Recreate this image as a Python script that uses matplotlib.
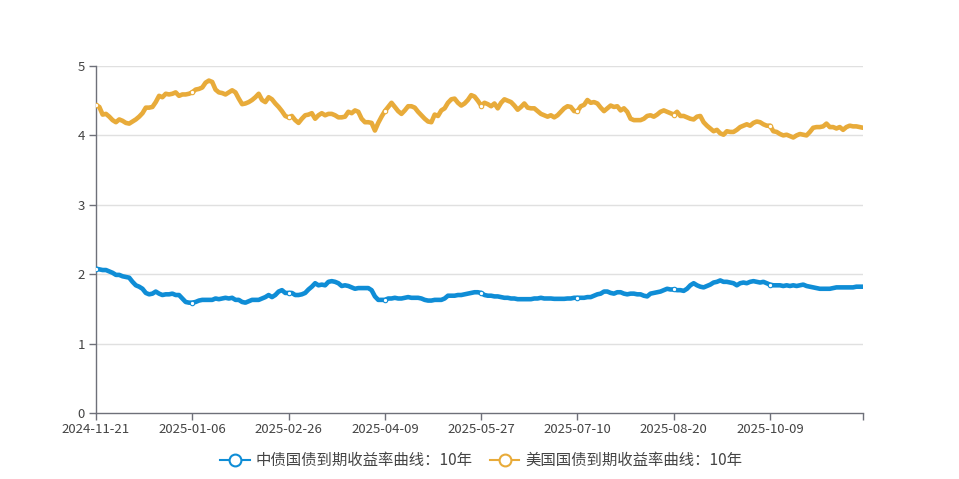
import matplotlib
matplotlib.use("Agg")
import matplotlib.pyplot as plt
from matplotlib.lines import Line2D

plt.rcParams['font.family'] = ['Noto Sans CJK SC', 'DejaVu Sans']

tick_labels = ['2024-11-21', '2025-01-06', '2025-02-26', '2025-04-09',
               '2025-05-27', '2025-07-10', '2025-08-20', '2025-10-09']
label_step = 29

series_names = ['中债国债到期收益率曲线：10年', '美国国债到期收益率曲线：10年']

china_10y = [
    2.08, 2.07, 2.06, 2.06, 2.04, 2.02, 1.99, 1.99, 1.97, 1.96,
    1.95, 1.89, 1.84, 1.82, 1.79, 1.73, 1.71, 1.72, 1.75, 1.72,
    1.70, 1.71, 1.71, 1.72, 1.70, 1.70, 1.65, 1.60, 1.59, 1.59,
    1.60, 1.62, 1.63, 1.63, 1.63, 1.63, 1.65, 1.64, 1.65, 1.66,
    1.65, 1.66, 1.63, 1.63, 1.60, 1.59, 1.61, 1.63, 1.63, 1.63,
    1.65, 1.67, 1.70, 1.67, 1.70, 1.75, 1.77, 1.73, 1.73, 1.73,
    1.70, 1.70, 1.71, 1.73, 1.78, 1.82, 1.87, 1.84, 1.85, 1.84,
    1.89, 1.90, 1.89, 1.87, 1.83, 1.84, 1.83, 1.81, 1.79, 1.80,
    1.80, 1.80, 1.80, 1.77, 1.68, 1.63, 1.63, 1.63, 1.65, 1.65,
    1.66, 1.65, 1.65, 1.66, 1.67, 1.66, 1.66, 1.66, 1.65, 1.63,
    1.62, 1.62, 1.63, 1.63, 1.63, 1.65, 1.69, 1.69, 1.69, 1.70,
    1.70, 1.71, 1.72, 1.73, 1.74, 1.74, 1.73, 1.70, 1.69, 1.69,
    1.68, 1.68, 1.67, 1.66, 1.66, 1.65, 1.65, 1.64, 1.64, 1.64,
    1.64, 1.64, 1.65, 1.65, 1.66, 1.65, 1.65, 1.65, 1.645, 1.645,
    1.645, 1.645, 1.65, 1.65, 1.66, 1.66, 1.66, 1.66, 1.67, 1.67,
    1.69, 1.71, 1.72, 1.75, 1.75, 1.73, 1.72, 1.74, 1.74, 1.72,
    1.71, 1.72, 1.72, 1.71, 1.71, 1.69, 1.68, 1.72, 1.73, 1.74,
    1.75, 1.77, 1.79, 1.78, 1.78, 1.77, 1.77, 1.76, 1.79, 1.84,
    1.87, 1.84, 1.82, 1.81, 1.83, 1.85, 1.88, 1.89, 1.91, 1.89,
    1.89, 1.88, 1.87, 1.84, 1.87, 1.88, 1.87, 1.89, 1.90, 1.89,
    1.88, 1.89, 1.87, 1.85, 1.84, 1.84, 1.84, 1.83, 1.84, 1.83,
    1.84, 1.83, 1.84, 1.85, 1.83, 1.82, 1.81, 1.80, 1.79, 1.79,
    1.79, 1.79, 1.80, 1.81, 1.81, 1.81, 1.81, 1.81, 1.81, 1.82,
    1.82, 1.82,
]

us_10y = [
    4.435, 4.41, 4.30, 4.31, 4.27, 4.22, 4.19, 4.23, 4.21, 4.18,
    4.17, 4.20, 4.23, 4.27, 4.32, 4.40, 4.40, 4.41, 4.48, 4.57,
    4.55, 4.60, 4.59, 4.60, 4.62, 4.57, 4.59, 4.59, 4.60, 4.62,
    4.66, 4.67, 4.69, 4.76, 4.79, 4.77, 4.66, 4.62, 4.61, 4.59,
    4.62, 4.65, 4.62, 4.53, 4.45, 4.46, 4.48, 4.51, 4.55, 4.60,
    4.51, 4.48, 4.55, 4.52, 4.46, 4.41, 4.35, 4.28, 4.26, 4.28,
    4.22, 4.18, 4.24, 4.29, 4.30, 4.32, 4.24, 4.29, 4.32, 4.29,
    4.31, 4.31, 4.29, 4.26, 4.26, 4.27, 4.34, 4.32, 4.36, 4.34,
    4.24, 4.19, 4.19, 4.18, 4.07, 4.18, 4.27, 4.35, 4.41, 4.47,
    4.41, 4.35, 4.31, 4.36, 4.42, 4.42, 4.40, 4.34, 4.29, 4.24,
    4.20, 4.19, 4.30, 4.28, 4.36, 4.39, 4.47, 4.52, 4.53, 4.47,
    4.43, 4.46, 4.51, 4.58, 4.56, 4.50, 4.43, 4.47, 4.45, 4.42,
    4.46, 4.39, 4.47, 4.52, 4.50, 4.48, 4.43, 4.37, 4.41, 4.46,
    4.40, 4.39, 4.39, 4.35, 4.31, 4.29, 4.27, 4.29, 4.26, 4.29,
    4.34, 4.39, 4.42, 4.41, 4.35, 4.35, 4.42, 4.44, 4.51, 4.47,
    4.48, 4.46, 4.40, 4.35, 4.39, 4.43, 4.41, 4.42, 4.36, 4.39,
    4.34, 4.24, 4.22, 4.22, 4.22, 4.24, 4.28, 4.29, 4.27, 4.30,
    4.34, 4.36, 4.34, 4.32, 4.30, 4.34, 4.28, 4.28, 4.26, 4.24,
    4.23, 4.27, 4.28, 4.19, 4.14, 4.10, 4.06, 4.08, 4.03, 4.01,
    4.06, 4.05, 4.05, 4.08, 4.12, 4.14, 4.16, 4.14, 4.18, 4.20,
    4.19, 4.16, 4.14, 4.14, 4.06, 4.05, 4.02, 4.00, 4.01, 3.99,
    3.97, 4.00, 4.02, 4.01, 4.00, 4.05, 4.11, 4.12, 4.12, 4.13,
    4.17, 4.12, 4.12, 4.10, 4.12, 4.08, 4.12, 4.14, 4.13, 4.13,
    4.12, 4.11,
]

n = min(len(china_10y), len(us_10y))
china_10y = china_10y[:n]
us_10y = us_10y[:n]
x = list(range(n))

blue = '#0f8dd6'
orange = '#e8ab3a'
axis_col = '#6e7079'
text_col = '#444444'

fig = plt.figure(figsize=(9.59, 4.79), dpi=100)
ax = fig.add_axes([96 / 959, 66 / 479, (863 - 96) / 959, (413 - 66) / 479])
ax.set_xlim(0, n - 1)
ax.set_ylim(0, 5)

# grid
for v in [1, 2, 3, 4, 5]:
    ax.axhline(v, color='#e0e0e0', lw=1.0, zorder=0)

marker_idx = list(range(0, n, label_step))
for vals, col in [(china_10y, blue), (us_10y, orange)]:
    ax.plot(x, vals, color=col, lw=3.3, solid_joinstyle='round',
            solid_capstyle='round', zorder=3)
    ax.plot([x[i] for i in marker_idx], [vals[i] for i in marker_idx],
            ls='none', marker='o', ms=3.2, mfc='white', mec=col, mew=0.8, zorder=4)

for s in ['top', 'right']:
    ax.spines[s].set_visible(False)
ax.spines['left'].set_color(axis_col)
ax.spines['bottom'].set_color(axis_col)
ax.spines['left'].set_linewidth(1.0)
ax.spines['bottom'].set_linewidth(1.0)

ax.set_yticks([0, 1, 2, 3, 4, 5])
ax.set_yticklabels(['0', '1', '2', '3', '4', '5'])
xt = list(range(0, n, label_step))[:len(tick_labels)]
ax.set_xticks(xt + [n - 1])
ax.set_xticklabels(tick_labels[:len(xt)] + [''])
ax.tick_params(axis='both', colors=axis_col, length=5, width=1.0,
               labelsize=9.5, labelcolor=text_col)
ax.tick_params(axis='x', pad=2)
ax.tick_params(axis='y', pad=3)

handles = [Line2D([0], [0], color=blue, lw=1.5, marker='o', ms=8.5,
                  mfc='white', mec=blue, mew=1.5),
           Line2D([0], [0], color=orange, lw=1.5, marker='o', ms=8.5,
                  mfc='white', mec=orange, mew=1.5)]
fig.legend(handles, series_names, loc='center', bbox_to_anchor=(0.502, 0.038),
           ncol=2, frameon=False, fontsize=11.1, handlelength=1.9,
           handletextpad=0.4, columnspacing=1.1, labelcolor=text_col)

fig.savefig('out.png', dpi=100, facecolor='white')
